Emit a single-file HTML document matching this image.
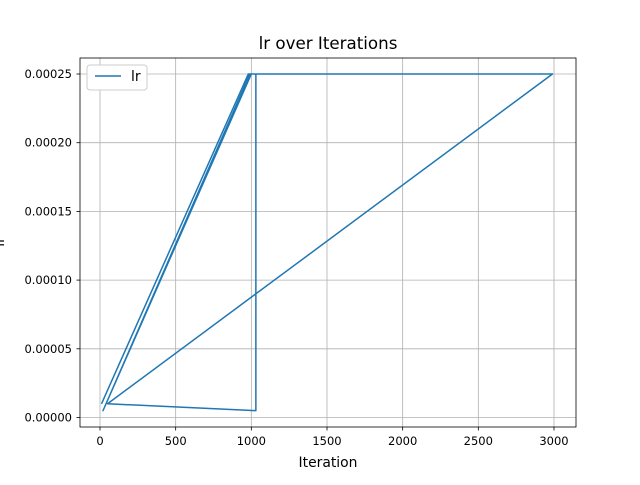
<!DOCTYPE html>
<html><head><meta charset="utf-8"><style>body{margin:0;background:#fff}svg{font-family:"DejaVu Sans","Liberation Sans",sans-serif}</style></head>
<body>
<svg id="c" width="640" height="480">
<rect x="0" y="0" width="640" height="480" fill="#fff"/>
<text x="328" y="49" font-size="16.7" text-anchor="middle">lr over Iterations</text>
<text x="328" y="467" font-size="13.9" text-anchor="middle">Iteration</text>
<text transform="translate(4,242) rotate(-90)" font-size="13.9" text-anchor="middle">lr</text>
<g id="grid"></g><g id="ticks"></g><g id="series"></g>
<rect x="80" y="58" width="496" height="369" fill="none" stroke="#000" stroke-width="0.8"/>
<g>
<rect x="87" y="65" width="60" height="25" rx="3" fill="#fff" stroke="#ccc"/>
<line x1="95" y1="76" x2="121" y2="76" stroke="#1f77b4" stroke-width="1.5"/>
<text x="131" y="81" font-size="13.9">lr</text>
</g>
</svg>
<script>
const xTicks=[0,500,1000,1500,2000,2500,3000];
const yTicks=[0,0.00005,0.0001,0.00015,0.0002,0.00025];
const yTickLabels=["0.00000","0.00005","0.00010","0.00015","0.00020","0.00025"];
const iters=[10,980,1000,20,990,1030,1030,50,2990,1000];
const lrs=[0.00001,0.00025,0.00025,0.000005,0.00025,0.00025,0.000005,0.00001,0.00025,0.00025];
const X=v=>100+v*0.15133, Y=v=>417.5-v/0.00025*343.5;
const NS="http://www.w3.org/2000/svg";
const g=document.getElementById('grid'),t=document.getElementById('ticks'),s=document.getElementById('series');
function mk(p,tag,a){const e=document.createElementNS(NS,tag);for(const k in a)e.setAttribute(k,a[k]);p.appendChild(e);return e;}
xTicks.forEach(v=>{const x=X(v);
const l=mk(g,'line',{x1:x,x2:x,y1:58,y2:427,stroke:'#b0b0b0','stroke-width':0.8});


mk(t,'line',{x1:x,x2:x,y1:427,y2:430.5,stroke:'#000','stroke-width':0.8});
const tx=mk(t,'text',{x:x,y:445,'font-size':11.5,'text-anchor':'middle'});tx.textContent=v;

});
yTicks.forEach((v,i)=>{const y=Y(v);
const l=mk(g,'line',{x1:80,x2:576,y1:y,y2:y,stroke:'#b0b0b0','stroke-width':0.8});


mk(t,'line',{x1:76.5,x2:80,y1:y,y2:y,stroke:'#000','stroke-width':0.8});
const tx=mk(t,'text',{x:72,y:y+4,'font-size':11.5,'text-anchor':'end'});tx.textContent=yTickLabels[i];

});
const p=mk(s,'polyline',{points:iters.map((v,i)=>X(v)+','+Y(lrs[i])).join(' '),fill:'none',stroke:'#1f77b4','stroke-width':1.5,'stroke-linejoin':'round'});


</script>
</body></html>
